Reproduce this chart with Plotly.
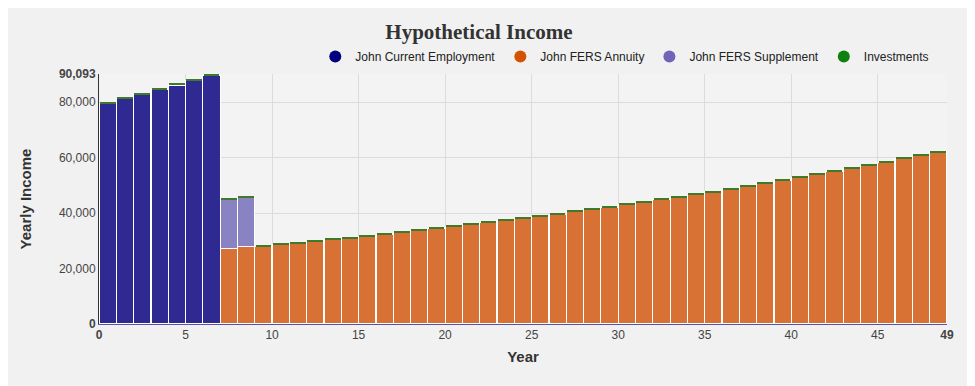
import plotly.graph_objects as go

years = list(range(49))

employment = [79550, 81150, 82780, 84450, 86150, 87880, 89640] + [0] * 42
annuity = [0] * 7 + [27300, 27800, 27950, 28530, 29120, 29720, 30340, 30970, 31610,
                     32260, 32930, 33610, 34310, 35020, 35740, 36480, 37230, 38000,
                     38780, 39580, 40400, 41230, 42080, 42950, 43840, 44740, 45660,
                     46600, 47560, 48540, 49540, 50560, 51600, 52660, 53750, 54850,
                     55980, 57130, 58310, 59510, 60730, 61980]
supplement = [0] * 7 + [17600, 17850] + [0] * 40
investments = [450] * 49

series_names = ["John Current Employment", "John FERS Annuity",
                "John FERS Supplement", "Investments"]
legend_colors = ["#000080", "#d35400", "#7163b8", "#108010"]
bar_colors = ["#2f2a92", "#d87234", "#8a83c3", "#3f7a2a"]

x_tickvals = [0, 5, 10, 15, 20, 25, 30, 35, 40, 45, 49]
x_ticktext = ["<b>0</b>", "5", "10", "15", "20", "25", "30", "35", "40", "45", "<b>49</b>"]
y_tickvals = [0, 20000, 40000, 60000, 80000, 90093]
y_ticktext = ["<b>0</b>", "20,000", "40,000", "60,000", "80,000", "<b>90,093</b>"]

fig = go.Figure()
data = [employment, annuity, supplement, investments]
for i, (name, vals) in enumerate(zip(series_names, data)):
    is_inv = (i == 3)
    fig.add_trace(go.Bar(
        x=years, y=vals, name=name, showlegend=False,
        offset=0.045 if is_inv else 0, width=0.91 if is_inv else 1,
        marker=dict(color=bar_colors[i],
                    line=dict(color="white", width=0 if is_inv else 1.2)),
        hoverinfo="skip",
    ))
for name, col in zip(series_names, legend_colors):
    fig.add_trace(go.Scatter(
        x=[None], y=[None], mode="markers", name=name,
        marker=dict(color=col, size=13, symbol="circle"),
    ))

fig.update_layout(
    width=975, height=386,
    barmode="stack",
    paper_bgcolor="#f1f1f1",
    plot_bgcolor="#f3f3f3",
    margin=dict(l=91, r=36, t=66, b=70),
    font=dict(family="Liberation Sans, Arial, sans-serif", size=12, color="#444"),
    title=dict(text="<b>Hypothetical Income</b>", x=0.483, xanchor="center",
               y=0.94, yanchor="middle",
               font=dict(family="Liberation Serif, serif", size=21, color="#333")),
    legend=dict(orientation="h", traceorder="normal",
                x=0.985, xanchor="right", y=1.07, yanchor="middle",
                font=dict(size=12, color="#222"), bgcolor="rgba(0,0,0,0)",
                itemsizing="constant", tracegroupgap=0),
    xaxis=dict(range=[0, 49], tickmode="array", tickvals=x_tickvals, ticktext=x_ticktext,
               showgrid=True, gridcolor="#dcdcdc", gridwidth=1,
               showline=True, linecolor="#5a50a8", linewidth=1,
               ticks="", zeroline=False,
               tickfont=dict(size=12, color="#444"),
               title=dict(text="<b>Year</b>", standoff=10,
                          font=dict(size=15, color="#333"))),
    yaxis=dict(range=[0, 90093], tickmode="array", tickvals=y_tickvals, ticktext=y_ticktext,
               showgrid=True, gridcolor="#dcdcdc", gridwidth=1,
               showline=True, linecolor="#333", linewidth=1,
               ticks="", zeroline=False,
               tickfont=dict(size=12, color="#444"),
               title=dict(text="<b>Yearly Income</b>", standoff=23,
                          font=dict(size=15, color="#333"))),
)

fig.write_html("out.html")
